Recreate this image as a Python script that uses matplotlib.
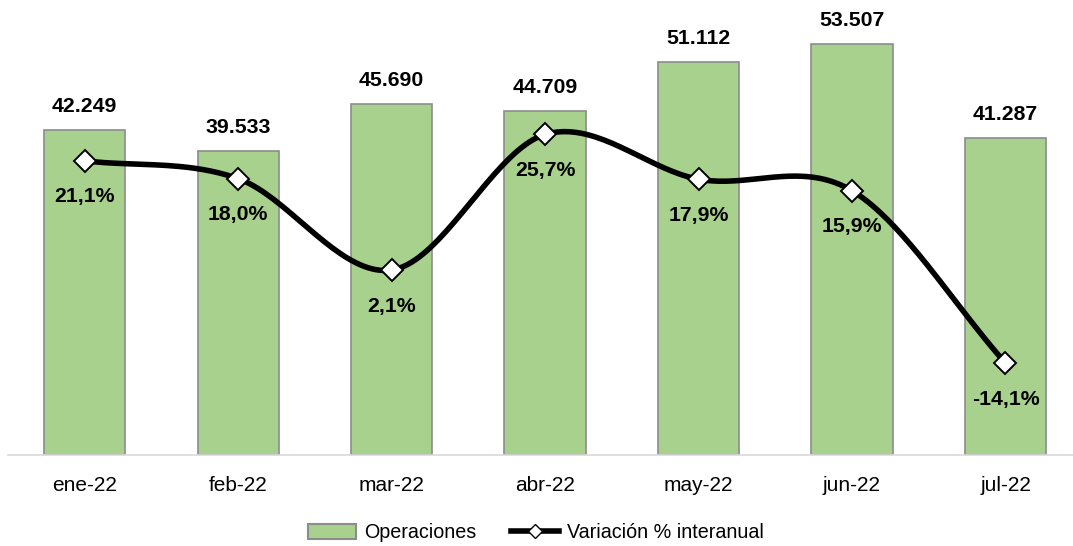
import numpy as np
import matplotlib.pyplot as plt
from matplotlib.lines import Line2D
from matplotlib.patches import Patch

plt.rcParams['font.family'] = ['Liberation Sans', 'DejaVu Sans']

# Data
meses = ['ene-22', 'feb-22', 'mar-22', 'abr-22', 'may-22', 'jun-22', 'jul-22']
operaciones = [42249, 39533, 45690, 44709, 51112, 53507, 41287]
variacion = [21.1, 18.0, 2.1, 25.7, 17.9, 15.9, -14.1]


def fmt_miles(v):
    return f"{v:,}".replace(",", ".")


def fmt_pct(v):
    return f"{v:.1f}%".replace(".", ",")


def catmull_rom(x, y, n=40):
    # smoothed line like the spreadsheet one
    x = np.asarray(x, float)
    y = np.asarray(y, float)
    px = np.concatenate([[2 * x[0] - x[1]], x, [2 * x[-1] - x[-2]]])
    py = np.concatenate([[2 * y[0] - y[1]], y, [2 * y[-1] - y[-2]]])
    xs, ys = [], []
    t = np.linspace(0, 1, n)
    for i in range(1, len(px) - 2):
        for p, out in ((px, xs), (py, ys)):
            p0, p1, p2, p3 = p[i - 1], p[i], p[i + 1], p[i + 2]
            out.extend(0.5 * ((2 * p1) + (-p0 + p2) * t
                              + (2 * p0 - 5 * p1 + 4 * p2 - p3) * t ** 2
                              + (-p0 + 3 * p1 - 3 * p2 + p3) * t ** 3))
    return np.array(xs), np.array(ys)


fig = plt.figure(figsize=(10.73, 5.46), dpi=100)
ax = fig.add_axes([8 / 1073, 91 / 546, 1065 / 1073, 455 / 546])
x = np.arange(len(meses))

ax.bar(x, operaciones, width=0.53, color='#A9D18E', edgecolor='#8C8C8C', linewidth=1.2, zorder=2)
for xi, v in zip(x, operaciones):
    ax.annotate(fmt_miles(v), (xi, v), xytext=(0, 17), textcoords='offset points',
                ha='center', va='center', fontsize=15.3, fontweight='bold')

ax.set_xlim(-0.5, 6.44)
ax.set_ylim(0, 59200)
ax.set_xticks(x)
ax.set_xticklabels(meses, fontsize=15)
ax.tick_params(axis='x', length=0, pad=15)
ax.set_yticks([])
for s in ['top', 'right', 'left']:
    ax.spines[s].set_visible(False)
ax.spines['bottom'].set_color('#D9D9D9')
ax.spines['bottom'].set_linewidth(1.2)

ax2 = ax.twinx()
ax2.set_ylim(-30.1, 49.1)
ax2.set_yticks([])
for s in ax2.spines.values():
    s.set_visible(False)
sx, sy = catmull_rom(x, variacion)
ax2.plot(sx, sy, color='black', linewidth=4, zorder=3, solid_capstyle='round')
ax2.plot(x, variacion, linestyle='none', marker='D', markersize=11, markerfacecolor='white',
         markeredgecolor='black', markeredgewidth=1.4, zorder=4)
for xi, v in zip(x, variacion):
    ax2.annotate(fmt_pct(v), (xi, v), xytext=(0, -26), textcoords='offset points',
                 ha='center', va='center', fontsize=15.3, fontweight='bold')

handles = [Patch(facecolor='#A9D18E', edgecolor='#8C8C8C', linewidth=1.5),
           Line2D([0], [0], color='black', linewidth=4, marker='D', markersize=7,
                  markerfacecolor='white', markeredgecolor='black')]
fig.legend(handles, ['Operaciones', 'Variación % interanual'], loc='center',
           bbox_to_anchor=(536 / 1073, 1 - 533 / 546), ncol=2, frameon=False,
           fontsize=14.2, handlelength=2.4, handleheight=0.8, handletextpad=0.4,
           columnspacing=1.8, borderpad=0)

fig.savefig('out.png', dpi=100)
